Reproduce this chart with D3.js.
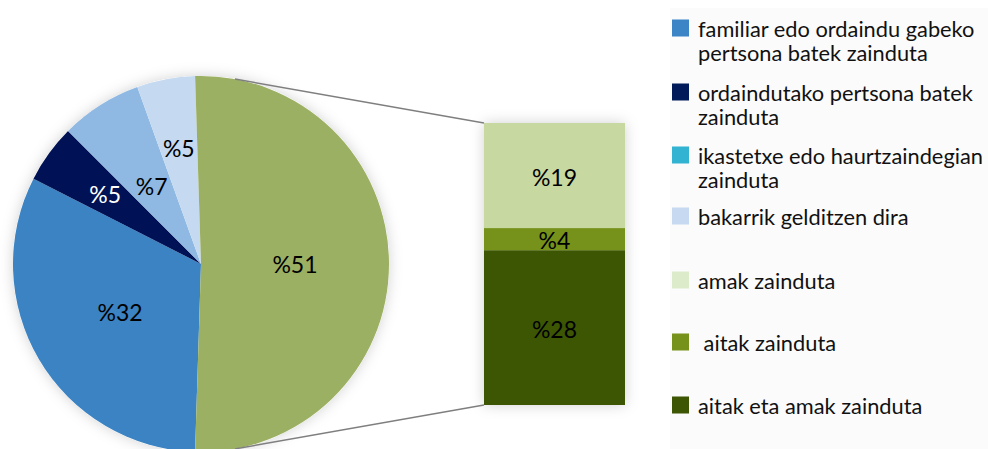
<!DOCTYPE html>
<html><head><meta charset="utf-8">
<script src="https://cdn.jsdelivr.net/npm/d3@7/dist/d3.min.js"></script>
<style>html,body{margin:0;padding:0;background:#fff;}svg{display:block;font-family:Lato,"Open Sans",sans-serif;}</style>
</head><body>
<svg id="c" width="988" height="449"></svg>
<script>
// Data
const pieCategories = ["familiar edo ordaindu gabeko pertsona batek zainduta","ordaindutako pertsona batek zainduta","ikastetxe edo haurtzaindegian zainduta","bakarrik gelditzen dira","gurasoek zainduta"];
const pieValues = [32, 5, 7, 5, 51];
const pieLabels = ["%32","%5","%7","%5","%51"];
const pieColors = ["#3b83c3","#001255","#8fb9e3","#c5daf0","#9bb062"];
const pieLabelColors = ["#000","#fff","#000","#000","#000"];
const barCategories = ["aitak eta amak zainduta","aitak zainduta","amak zainduta"];
const barValues = [28, 4, 19];
const barLabels = ["%28","%4","%19"];
const barColors = ["#3d5604","#76921b","#c7d8a0"];
const legendLabels = [["familiar edo ordaindu gabeko","pertsona batek zainduta"],["ordaindutako pertsona batek","zainduta"],["ikastetxe edo haurtzaindegian","zainduta"],["bakarrik gelditzen dira"],["amak zainduta"],[" aitak zainduta"],["aitak eta amak zainduta"]];
const legendColors = ["#3b84c6","#001a5a","#31b3d1","#c6d9f1","#dcebc9","#76921b","#3d5604"];

const svg = d3.select("#c");
const defs = svg.append("defs");
const f = defs.append("filter").attr("id","sh").attr("x","-20%").attr("y","-20%").attr("width","140%").attr("height","140%");
f.append("feDropShadow").attr("dx",0).attr("dy",0).attr("stdDeviation",7).attr("flood-color","#000").attr("flood-opacity",0.18);

// legend background
svg.append("rect").attr("x",670).attr("y",8).attr("width",318).attr("height",441).attr("fill","#fbfbfb");

const cx = 201, cy = 264, R = 188;
const total = d3.sum(pieValues);
const otherAngle = pieValues[4]/total*2*Math.PI;
const start = Math.PI/2 + otherAngle/2; // other slice centered on right
const pie = d3.pie().sort(null).value(d=>d).startAngle(start).endAngle(start+2*Math.PI);
const arcs = pie(pieValues);
const arc = d3.arc().innerRadius(0).outerRadius(R);
const g = svg.append("g").attr("transform",`translate(${cx},${cy})`);
g.append("circle").attr("r",R).attr("fill","#fff").attr("filter","url(#sh)");
g.selectAll("path.s").data(arcs).join("path").attr("class","s").attr("d",arc).attr("fill",(d,i)=>pieColors[i]);
const labelR = [0.5,0.63,0.49,0.63,0.5];
g.selectAll("text.l").data(arcs).join("text").attr("class","l")
  .attr("transform",(d,i)=>{const a=(d.startAngle+d.endAngle)/2; const r=R*labelR[i]; return `translate(${Math.sin(a)*r},${-Math.cos(a)*r})`;})
  .attr("text-anchor","middle").attr("dominant-baseline","central")
  .attr("font-size",23).attr("fill",(d,i)=>pieLabelColors[i]).text((d,i)=>pieLabels[i]);

// bar
const bx = 484, bw = 141, bTop = 123, bBot = 405;
const y = d3.scaleLinear().domain([0, d3.sum(barValues)]).range([bBot, bTop]);
const stack = []; let acc = 0;
barValues.forEach((v,i)=>{stack.push({y0:acc,y1:acc+v,i}); acc+=v;});
const bg = svg.append("g");
bg.append("rect").attr("x",bx).attr("y",bTop).attr("width",bw).attr("height",bBot-bTop).attr("fill","#fff").attr("filter","url(#sh)");
bg.selectAll("rect.b").data(stack).join("rect").attr("class","b")
  .attr("x",bx).attr("width",bw).attr("y",d=>y(d.y1)).attr("height",d=>y(d.y0)-y(d.y1)).attr("fill",d=>barColors[d.i]);
bg.selectAll("text.b").data(stack).join("text").attr("class","b")
  .attr("x",bx+bw/2).attr("y",d=>(y(d.y0)+y(d.y1))/2+1).attr("text-anchor","middle").attr("dominant-baseline","central")
  .attr("font-size",23).attr("fill","#000").text(d=>barLabels[d.i]);

// connector lines
const ca = 10.4*Math.PI/180;
svg.append("line").attr("x1",cx+Math.sin(ca)*R).attr("y1",cy-Math.cos(ca)*R).attr("x2",bx).attr("y2",bTop).attr("stroke","#7f7f7f").attr("stroke-width",1.5);
svg.append("line").attr("x1",cx+Math.sin(ca)*R).attr("y1",cy+Math.cos(ca)*R).attr("x2",bx).attr("y2",bBot).attr("stroke","#7f7f7f").attr("stroke-width",1.5);

// legend
const rowY = [28,92,155,216,280,342,405];
const lg = svg.append("g");
legendLabels.forEach((lines,i)=>{
  lg.append("rect").attr("x",672).attr("y",rowY[i]-8.5).attr("width",17).attr("height",17).attr("fill",legendColors[i]);
  lines.forEach((t,j)=>{
    lg.append("text").attr("x",698).attr("y",rowY[i]+j*24.5).attr("dominant-baseline","central")
      .attr("font-size",21.8).attr("fill","#111").attr("xml:space","preserve").style("white-space","pre").text(t);
  });
});
</script>
</body></html>
